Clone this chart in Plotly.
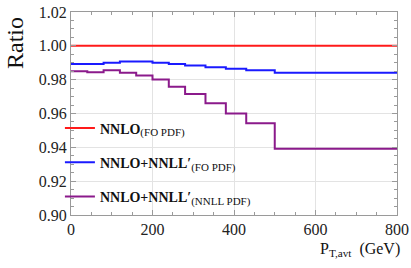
import plotly.graph_objects as go

bin_edges = [0, 40, 80, 120, 160, 200, 240, 280, 330, 380, 430, 500, 800]
ratio_nnlo_fo = [1.0, 1.0, 1.0, 1.0, 1.0, 1.0, 1.0, 1.0, 1.0, 1.0, 1.0, 1.0]
ratio_nnll_fo = [0.9892, 0.9892, 0.9900, 0.9908, 0.9908, 0.9900, 0.9892, 0.9884,
                 0.9874, 0.9864, 0.9855, 0.9841]
ratio_nnll_nnll = [0.9850, 0.9844, 0.9855, 0.9841, 0.9825, 0.9801, 0.9758, 0.9715,
                   0.9660, 0.9600, 0.9542, 0.9392]
series_names = ["<b>NNLO</b><sub><span style=\"font-size:11px\">(FO PDF)</span></sub>",
                "<b>NNLO+NNLL′</b><sub><span style=\"font-size:11px\">(FO PDF)</span></sub>",
                "<b>NNLO+NNLL′</b><sub><span style=\"font-size:11px\">(NNLL PDF)</span></sub>"]
series_colors = ["#ff1a1a", "#1a1aff", "#8b1a8b"]

FONT = "Liberation Serif, DejaVu Serif, serif"

fig = go.Figure()
for i, (vals, name, col) in enumerate(zip([ratio_nnlo_fo, ratio_nnll_fo, ratio_nnll_nnll],
                                          series_names, series_colors)):
    fig.add_trace(go.Scatter(
        x=bin_edges, y=vals + [vals[-1]], mode="lines", line_shape="hv",
        line=dict(color=col, width=2), name=name, legendgroup=f"g{i}"))

axis_common = dict(showline=True, linecolor="#9a9a9a", linewidth=1, mirror="ticks",
                   ticks="inside", tickcolor="#9a9a9a", ticklen=5, automargin=False,
                   showgrid=True, gridcolor="#e3e3e3", gridwidth=1, zeroline=False,
                   tickfont=dict(family=FONT, size=16, color="#222"))

fig.update_layout(
    width=411, height=268, margin=dict(l=71, r=14, t=12, b=53, autoexpand=False),
    font=dict(family=FONT, color="#111"),
    paper_bgcolor="white", plot_bgcolor="white",
    showlegend=True,
    legend=dict(x=-0.034, y=0.505, xanchor="left", yanchor="top",
                bgcolor="rgba(0,0,0,0)", tracegroupgap=13,
                font=dict(family=FONT, size=14, color="#111")),
    xaxis=dict(range=[0, 800], tickvals=[0, 200, 400, 600, 800],
               minor=dict(dtick=50, ticks="inside", ticklen=3, tickcolor="#9a9a9a", showgrid=False),
               **axis_common),
    yaxis=dict(range=[0.90, 1.02], tickvals=[0.90, 0.92, 0.94, 0.96, 0.98, 1.00, 1.02],
               tickformat=".2f",
               minor=dict(dtick=0.005, ticks="inside", ticklen=3, tickcolor="#9a9a9a", showgrid=False),
               **axis_common),
    annotations=[
        dict(text="Ratio", xref="paper", yref="paper", x=-0.172, y=0.985,
             xanchor="center", yanchor="top", textangle=-90, showarrow=False,
             font=dict(family=FONT, size=24, color="#111")),
        dict(text="P<sub>T,avt</sub>  (GeV)", xref="paper", yref="paper", x=1.015, y=-0.172,
             xanchor="right", yanchor="middle", showarrow=False,
             font=dict(family=FONT, size=16, color="#111")),
    ],
)

fig.write_html("out.html", config={"displayModeBar": False},
               post_script="document.body.style.margin='0';")
